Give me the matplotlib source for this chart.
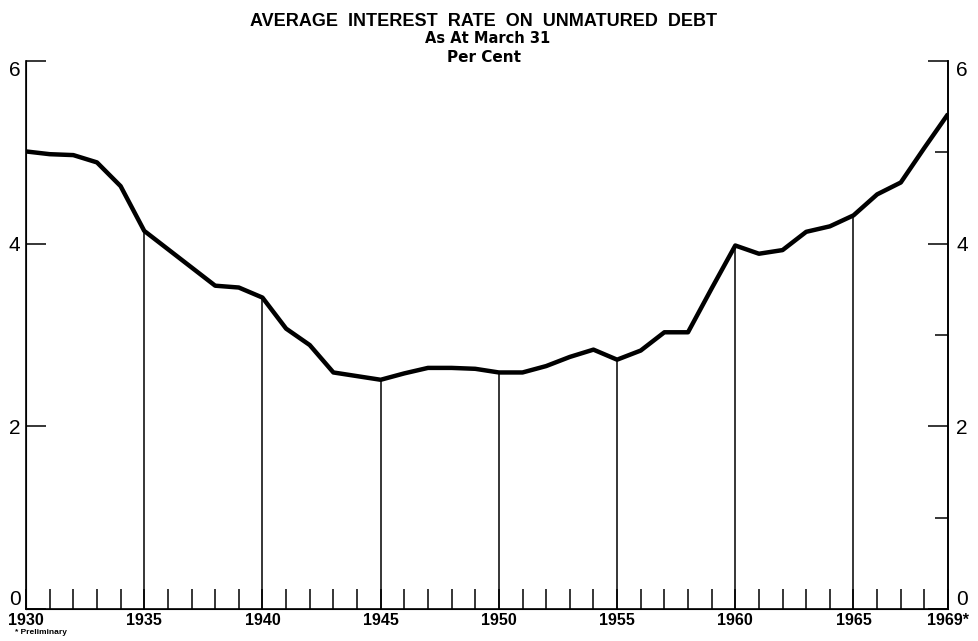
#平均利率图 - unmatured debt
import matplotlib
matplotlib.use('Agg')
import matplotlib.pyplot as plt

years=list(range(1930,1970))
rates=[5.01,4.98,4.97,4.89,4.63,4.14,3.94,3.74,3.54,3.52,
       3.41,3.07,2.89,2.59,2.55,2.51,2.58,2.64,2.64,2.63,
       2.59,2.59,2.66,2.76,2.84,2.73,2.83,3.03,3.03,3.51,
       3.98,3.89,3.93,4.13,4.19,4.31,4.54,4.67,5.05,5.42]
dropYears=[1935,1940,1945,1950,1955,1960,1965]
yearLabels=['1930','1935','1940','1945','1950','1955','1960','1965','1969*']
labelYears=[1930,1935,1940,1945,1950,1955,1960,1965,1969]
leftTicks=[0,2,4,6]
rightMajor=[0,2,4,6]
rightMinor=[1,3,5]

plt.rcParams['font.family']=['Liberation Sans','DejaVu Sans']

fig=plt.figure(figsize=(9.79,6.41),dpi=100)
ax=fig.add_axes([0.0266,0.0499,0.9418,0.8549])
ax.set_xlim(1930,1969)
ax.set_ylim(0,6)

# 曲线和每五年的竖线
ax.plot(years,rates,color='black',lw=3.2,solid_joinstyle='round',solid_capstyle='butt',zorder=3)
for y in dropYears:
    v=rates[years.index(y)]
    ax.vlines(y,0,v,color='black',lw=1.1,zorder=2)

ax.spines['top'].set_visible(False)
for side in ['left','right','bottom']:
    ax.spines[side].set_linewidth(1.2)

# x轴: 每年一个短刻度
ax.set_xticks(years,minor=True)
ax.set_xticks(labelYears)
ax.set_xticklabels(yearLabels,fontsize=11.5,fontweight='bold')
ax.tick_params(axis='x',which='both',direction='in',length=14.4,width=1.1,pad=3)

def fixLabels(axis):
    # 0 放在刻度上方, 6 放在刻度下方
    for lab in axis.get_yticklabels():
        t=lab.get_text()
        if t=='0':
            lab.set_va('bottom')
        elif t=='6':
            lab.set_va('top')

# 左边y轴
ax.set_yticks(leftTicks)
ax.set_yticklabels([str(t) for t in leftTicks],fontsize=15)
ax.tick_params(axis='y',which='major',direction='in',length=14.4,width=1.1,pad=4)
fixLabels(ax)

# 右边y轴
ax2=ax.twinx()
ax2.set_ylim(0,6)
ax2.spines['top'].set_visible(False)
ax2.spines['right'].set_linewidth(1.2)
ax2.set_yticks(rightMajor)
ax2.set_yticklabels([str(t) for t in rightMajor],fontsize=15)
ax2.set_yticks(rightMinor,minor=True)
ax2.tick_params(axis='y',which='major',direction='in',length=14.4,width=1.1,pad=6)
ax2.tick_params(axis='y',which='minor',direction='in',length=9.5,width=1.1)
fixLabels(ax2)

fig.text(0.494,0.966,'AVERAGE  INTEREST  RATE  ON  UNMATURED  DEBT',ha='center',va='center',
         fontsize=13,fontweight='bold')
fig.text(0.498,0.94,'As At March 31',ha='center',va='center',fontsize=10.5,
         fontweight='bold',family='DejaVu Sans')
fig.text(0.494,0.911,'Per Cent',ha='center',va='center',fontsize=11,
         fontweight='bold',family='DejaVu Sans')
fig.text(0.015,0.008,'* Preliminary',ha='left',va='bottom',fontsize=6,fontweight='bold')

fig.savefig('out.png',dpi=100)
